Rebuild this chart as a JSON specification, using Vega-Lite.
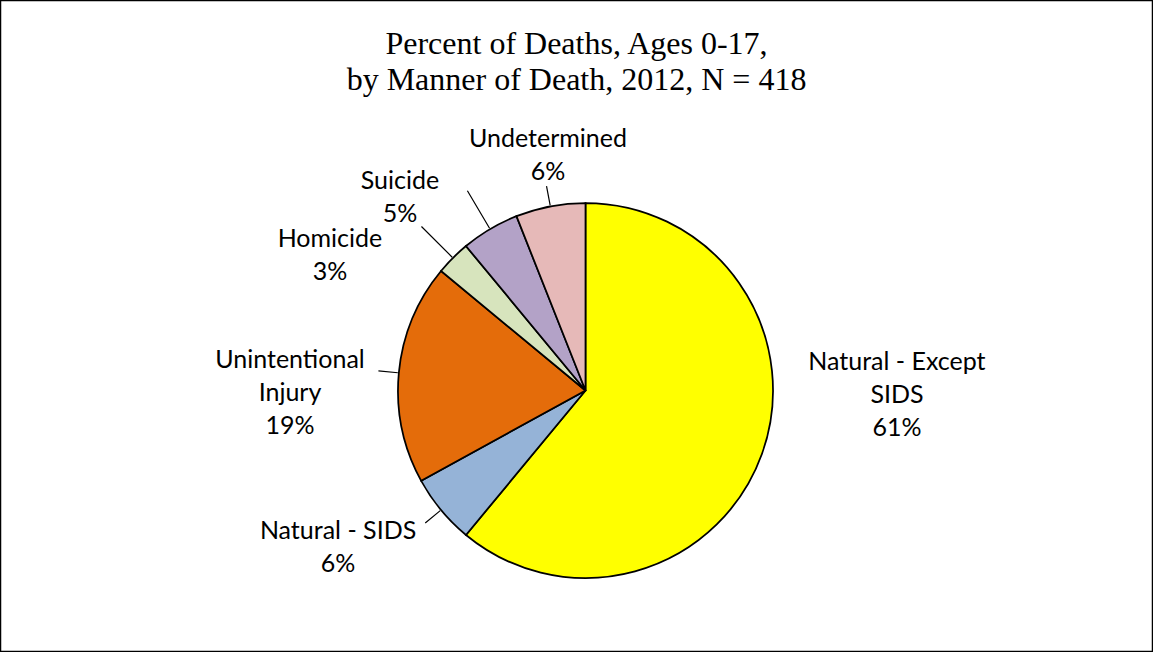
{
  "$schema": "https://vega.github.io/schema/vega-lite/v6.json",
  "width": 1153,
  "height": 652,
  "padding": 0,
  "autosize": "none",
  "background": "white",
  "view": {"stroke": "black", "strokeWidth": 2.5},
  "config": {"style": {"view": {"stroke": "black", "strokeWidth": 2.5}}},
  "title": {
    "text": ["Percent of Deaths, Ages 0-17,", "by Manner of Death, 2012, N = 418"],
    "font": "Liberation Serif",
    "fontSize": 32,
    "fontWeight": "normal",
    "color": "black",
    "lineHeight": 36,
    "anchor": "middle",
    "frame": "group",
    "offset": -130
  },
  "data": {
    "values": [
      {"cat": "Natural - Except SIDS", "pct": 61, "idx": 1, "label": "Natural - Except\nSIDS\n61%"},
      {"cat": "Natural - SIDS", "pct": 6, "idx": 2, "label": "Natural - SIDS\n6%"},
      {"cat": "Unintentional Injury", "pct": 19, "idx": 3, "label": "Unintentional\nInjury\n19%"},
      {"cat": "Homicide", "pct": 3, "idx": 4, "label": "Homicide\n3%"},
      {"cat": "Suicide", "pct": 5, "idx": 5, "label": "Suicide\n5%"},
      {"cat": "Undetermined", "pct": 6, "idx": 6, "label": "Undetermined\n6%"}
    ]
  },
  "encoding": {
    "theta": {"field": "pct", "type": "quantitative", "stack": true},
    "order": {"field": "idx", "type": "quantitative"}
  },
  "layer": [
    {
      "mark": {"type": "arc", "radius": 187.5, "stroke": "black", "strokeWidth": 1.75, "xOffset": 9, "yOffset": 64.5},
      "encoding": {
        "color": {
          "field": "cat",
          "type": "nominal",
          "scale": {
            "domain": ["Natural - Except SIDS", "Natural - SIDS", "Unintentional Injury", "Homicide", "Suicide", "Undetermined"],
            "range": ["#FFFF00", "#95B3D7", "#E46C0A", "#D7E4BD", "#B3A2C7", "#E6B9B8"]
          },
          "legend": null
        }
      }
    },
    {
      "mark": {"type": "arc", "radius": 208, "radius2": 188.5, "padAngle": 3, "filled": false, "fill": null, "stroke": "black", "strokeWidth": 1.2, "xOffset": 9, "yOffset": 64.5},
      "encoding": {
        "strokeOpacity": {"condition": {"test": "datum.cat === 'Natural - SIDS' || datum.cat === 'Unintentional Injury' || datum.cat === 'Undetermined'", "value": 1}, "value": 0}
      }
    },
    {
      "mark": {"type": "arc", "radius": 232, "radius2": 188.5, "padAngle": 3, "filled": false, "fill": null, "stroke": "black", "strokeWidth": 1.2, "xOffset": 9, "yOffset": 64.5},
      "encoding": {
        "strokeOpacity": {"condition": {"test": "datum.cat === 'Homicide' || datum.cat === 'Suicide'", "value": 1}, "value": 0}
      }
    },
    {
      "mark": {"type": "text", "radius": 290, "font": "Lato", "fontSize": 25, "lineHeight": 33, "lineBreak": "\n", "align": "center", "baseline": "middle", "color": "black", "xOffset": 9, "yOffset": 64.5, "dx": 38.6, "dy": -126.7},
      "encoding": {"text": {"condition": {"test": "datum.cat === 'Natural - Except SIDS'", "field": "label"}, "value": ""}}
    },
    {
      "mark": {"type": "text", "radius": 290, "font": "Lato", "fontSize": 25, "lineHeight": 33, "lineBreak": "\n", "align": "center", "baseline": "middle", "color": "black", "xOffset": 9, "yOffset": 64.5, "dx": -24, "dy": -44},
      "encoding": {"text": {"condition": {"test": "datum.cat === 'Natural - SIDS'", "field": "label"}, "value": ""}}
    },
    {
      "mark": {"type": "text", "radius": 290, "font": "Lato", "fontSize": 25, "lineHeight": 33, "lineBreak": "\n", "align": "center", "baseline": "middle", "color": "black", "xOffset": 9, "yOffset": 64.5, "dx": -6.8, "dy": -3.2},
      "encoding": {"text": {"condition": {"test": "datum.cat === 'Unintentional Injury'", "field": "label"}, "value": ""}}
    },
    {
      "mark": {"type": "text", "radius": 290, "font": "Lato", "fontSize": 25, "lineHeight": 33, "lineBreak": "\n", "align": "center", "baseline": "middle", "color": "black", "xOffset": 9, "yOffset": 64.5, "dx": -50.5, "dy": 54},
      "encoding": {"text": {"condition": {"test": "datum.cat === 'Homicide'", "field": "label"}, "value": ""}}
    },
    {
      "mark": {"type": "text", "radius": 290, "font": "Lato", "fontSize": 25, "lineHeight": 33, "lineBreak": "\n", "align": "center", "baseline": "middle", "color": "black", "xOffset": 9, "yOffset": 64.5, "dx": -37.9, "dy": 40.6},
      "encoding": {"text": {"condition": {"test": "datum.cat === 'Suicide'", "field": "label"}, "value": ""}}
    },
    {
      "mark": {"type": "text", "radius": 290, "font": "Lato", "fontSize": 25, "lineHeight": 33, "lineBreak": "\n", "align": "center", "baseline": "middle", "color": "black", "xOffset": 9, "yOffset": 64.5, "dx": 16.8, "dy": 32.9},
      "encoding": {"text": {"condition": {"test": "datum.cat === 'Undetermined'", "field": "label"}, "value": ""}}
    }
  ]
}
